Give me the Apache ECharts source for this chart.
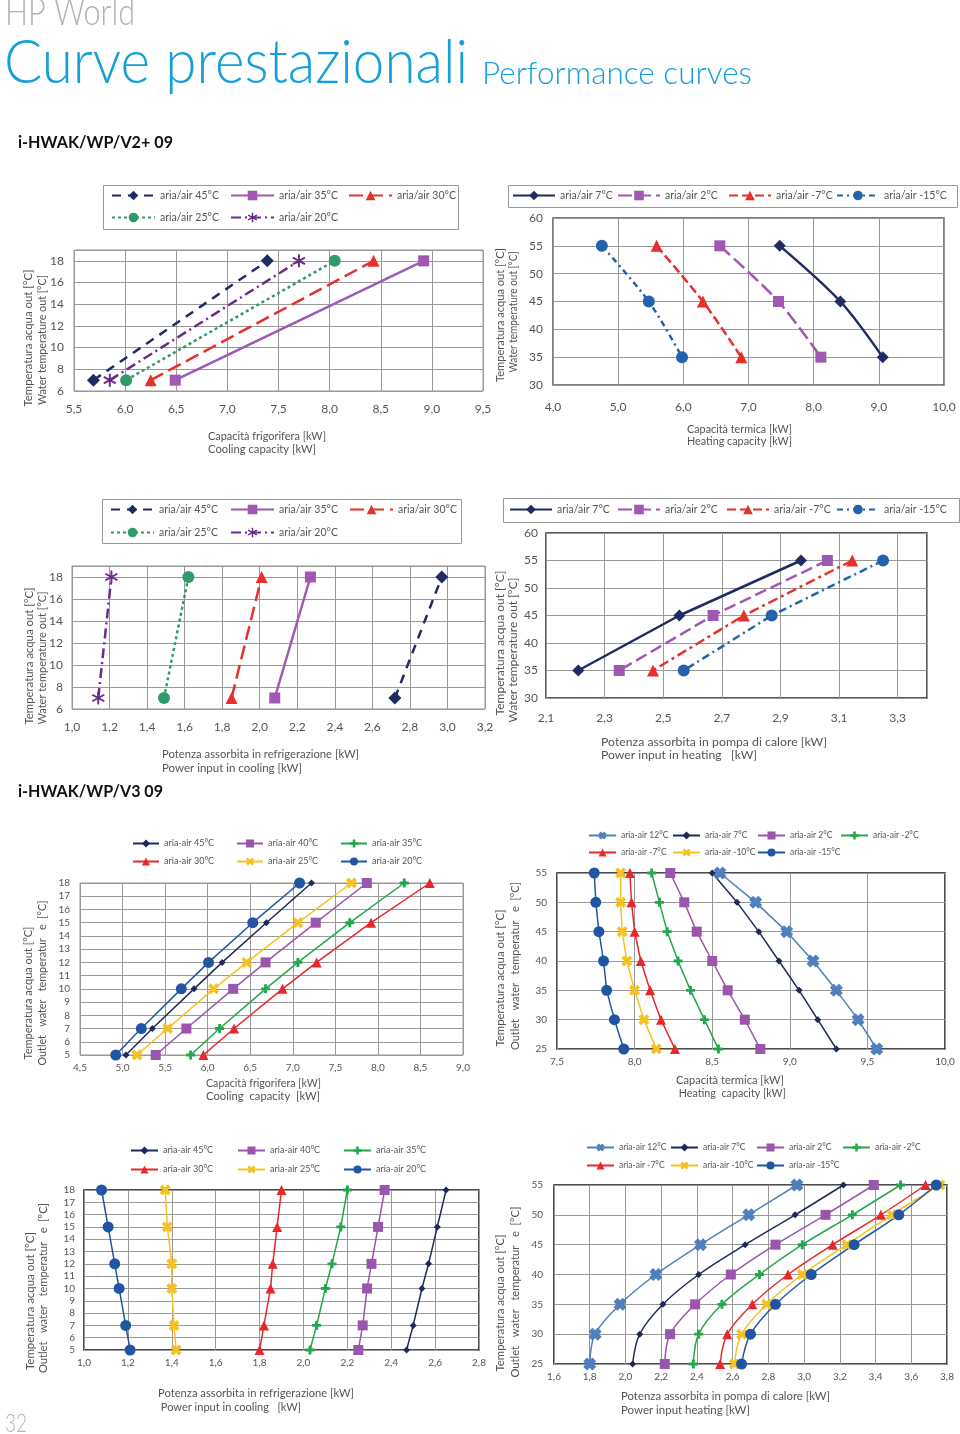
<!DOCTYPE html>
<html><head><meta charset="utf-8">
<script src="https://cdn.jsdelivr.net/npm/echarts@6/dist/echarts.min.js"></script>
<style>html,body{margin:0;padding:0;background:#fff}#c{width:960px;height:1434px}</style>
</head><body><div id="c"></div>
<script>
// ================= DATA =================
// i-HWAK/WP/V2+ 09 — cooling (water out temps 7 / 18 °C)
const coolTempsV2 = [7, 18];
const coolNamesV2 = ['aria/air 45°C', 'aria/air 35°C', 'aria/air 30°C', 'aria/air 25°C', 'aria/air 20°C'];
const capCoolV2_45 = [5.69, 7.39];
const capCoolV2_35 = [6.49, 8.92];
const capCoolV2_30 = [6.25, 8.43];
const capCoolV2_25 = [6.01, 8.05];
const capCoolV2_20 = [5.85, 7.70];
const powCoolV2_45 = [2.72, 2.97];
const powCoolV2_35 = [2.08, 2.27];
const powCoolV2_30 = [1.85, 2.01];
const powCoolV2_25 = [1.49, 1.62];
const powCoolV2_20 = [1.14, 1.21];
// i-HWAK/WP/V2+ 09 — heating (water out temps 55 / 45 / 35 °C)
const heatTempsV2 = [55, 45, 35];
const heatNamesV2 = ['aria/air 7°C', 'aria/air 2°C', 'aria/air -7°C', 'aria/air -15°C'];
const capHeatV2_7 = [7.48, 8.41, 9.06];
const capHeatV2_2 = [6.56, 7.46, 8.11];
const capHeatV2_m7 = [5.59, 6.30, 6.89];
const capHeatV2_m15 = [4.75, 5.47, 5.98];
const powHeatV2_7 = [2.97, 2.555, 2.21];
const powHeatV2_2 = [3.06, 2.67, 2.35];
const powHeatV2_m7 = [3.145, 2.775, 2.465];
const powHeatV2_m15 = [3.25, 2.87, 2.57];
// i-HWAK/WP/V3 09 — cooling
const coolTempsV3 = [5, 7, 10, 12, 15, 18];
const coolNamesV3 = ['aria-air 45°C', 'aria-air 40°C', 'aria-air 35°C', 'aria-air 30°C', 'aria-air 25°C', 'aria-air 20°C'];
const capCoolV3_45 = [5.04, 5.35, 5.84, 6.17, 6.69, 7.22];
const capCoolV3_40 = [5.39, 5.75, 6.30, 6.68, 7.27, 7.87];
const capCoolV3_35 = [5.80, 6.14, 6.68, 7.06, 7.67, 8.31];
const capCoolV3_30 = [5.95, 6.31, 6.88, 7.28, 7.92, 8.61];
const capCoolV3_25 = [5.17, 5.53, 6.07, 6.46, 7.06, 7.69];
const capCoolV3_20 = [4.92, 5.22, 5.69, 6.01, 6.53, 7.08];
const powCoolV3_45 = [2.47, 2.50, 2.54, 2.57, 2.61, 2.65];
const powCoolV3_40 = [2.25, 2.27, 2.29, 2.31, 2.34, 2.37];
const powCoolV3_35 = [2.03, 2.06, 2.10, 2.13, 2.17, 2.20];
const powCoolV3_30 = [1.80, 1.82, 1.85, 1.86, 1.88, 1.90];
const powCoolV3_25 = [1.42, 1.41, 1.40, 1.40, 1.38, 1.37];
const powCoolV3_20 = [1.21, 1.19, 1.16, 1.14, 1.11, 1.08];
// i-HWAK/WP/V3 09 — heating
const heatTempsV3 = [25, 30, 35, 40, 45, 50, 55];
const heatNamesV3 = ['aria-air 12°C', 'aria-air 7°C', 'aria-air 2°C', 'aria-air -2°C', 'aria-air -7°C', 'aria-air -10°C', 'aria-air -15°C'];
const capHeatV3_12 = [9.56, 9.44, 9.30, 9.15, 8.98, 8.78, 8.55];
const capHeatV3_7 = [9.30, 9.18, 9.06, 8.93, 8.80, 8.66, 8.50];
const capHeatV3_2 = [8.81, 8.71, 8.60, 8.50, 8.40, 8.32, 8.23];
const capHeatV3_m2 = [8.54, 8.45, 8.36, 8.28, 8.21, 8.16, 8.11];
const capHeatV3_m7 = [8.26, 8.17, 8.10, 8.04, 8.00, 7.98, 7.97];
const capHeatV3_m10 = [8.14, 8.06, 8.00, 7.95, 7.92, 7.91, 7.91];
const capHeatV3_m15 = [7.93, 7.87, 7.82, 7.80, 7.77, 7.75, 7.74];
const powHeatV3_12 = [1.80, 1.83, 1.97, 2.17, 2.42, 2.69, 2.96];
const powHeatV3_7 = [2.04, 2.08, 2.21, 2.41, 2.67, 2.95, 3.22];
const powHeatV3_2 = [2.22, 2.25, 2.39, 2.59, 2.84, 3.12, 3.39];
const powHeatV3_m2 = [2.38, 2.41, 2.54, 2.75, 2.99, 3.27, 3.54];
const powHeatV3_m7 = [2.53, 2.57, 2.71, 2.91, 3.16, 3.43, 3.68];
const powHeatV3_m10 = [2.61, 2.65, 2.79, 2.99, 3.24, 3.49, 3.76];
const powHeatV3_m15 = [2.65, 2.70, 2.84, 3.04, 3.28, 3.53, 3.74];

// ================= STYLE / HELPERS =================
const FONT = 'Lato, "Open Sans", "Noto Sans", sans-serif';
const fmt1 = v => (Math.round(v * 10) / 10).toFixed(1).replace('.', ',');
const pairs = (xs, ys) => xs.map((x, i) => [x, ys[i]]);
function bar(ang, L, W) {
  const c = Math.cos(ang), s = Math.sin(ang);
  const pts = [[-L, -W], [L, -W], [L, W], [-L, W]].map(([px, py]) => [(px * c - py * s).toFixed(2), (px * s + py * c).toFixed(2)]);
  return 'M' + pts.map(p => p.join(' ')).join(' L') + ' Z';
}
const SYM_ASTER = 'path://' + [90, 30, 150].map(a => bar(a * Math.PI / 180, 10, 1.4)).join(' ');
const SYM_X = 'path://' + [45, 135].map(a => bar(a * Math.PI / 180, 10, 3.2)).join(' ');
const SYM_X2 = 'path://' + [45, 135].map(a => bar(a * Math.PI / 180, 10, 4.2)).join(' ');
const SYM_PLUS = 'path://' + [0, 90].map(a => bar(a * Math.PI / 180, 10, 3.2)).join(' ');

const C = {
  navy: '#1f2b62', purple: '#a058b3', red: '#e5302b', green: '#2f9a6b', dpurple: '#6b2b88', blue: '#2562ad',
  navy3: '#1e2a5a', purple3: '#9a55ad', green3: '#22a84b', red3: '#e8272b', yellow3: '#f5c21f', blue3: '#2155a3', steel3: '#4f80bd'
};

const grids = [], xAxes = [], yAxes = [], series = [], legends = [], graphics = [];

function addPanel(g) {
  const gi = grids.length;
  grids.push({ left: g.left, top: g.top, width: g.width, height: g.height, show: true,
    borderColor: g.border, borderWidth: g.borderW, backgroundColor: 'transparent', containLabel: false, outerBoundsMode: 'none' });
  xAxes.push({ type: 'value', gridIndex: gi, min: g.x[0], max: g.x[1], interval: g.x[2],
    axisLine: { show: false }, axisTick: { show: false },
    splitLine: { show: true, lineStyle: { color: '#999', width: 1 } },
    axisLabel: { formatter: v => fmt1(v), fontFamily: FONT, fontSize: g.fs, color: '#555', margin: g.xm, showMinLabel: true, showMaxLabel: g.xMaxLabel !== false } });
  yAxes.push({ type: 'value', gridIndex: gi, min: g.y[0], max: g.y[1], interval: g.y[2],
    axisLine: { show: false }, axisTick: { show: false },
    splitLine: { show: true, lineStyle: { color: '#999', width: 1 } },
    axisLabel: { formatter: v => String(Math.round(v)), fontFamily: FONT, fontSize: g.fs, color: '#555', margin: g.ym, showMinLabel: true, showMaxLabel: g.yMaxLabel !== false } });
  return gi;
}
function addLine(gi, name, xs, ys, color, o) {
  series.push({ type: 'line', name, xAxisIndex: gi, yAxisIndex: gi, data: pairs(xs, ys),
    symbol: o.symbol, symbolSize: o.size, smooth: o.smooth || false, animation: false, silent: true,
    lineStyle: { color, width: o.width, type: o.dash || 'solid' }, itemStyle: { color } });
}
// one legend component per item, so every item sits exactly where the reference has it
function addLegendRow(names, lefts, top, o) {
  names.forEach((nm, i) => {
    legends.push({ data: [nm], left: lefts[i], top, orient: 'horizontal', padding: 0, selectedMode: false,
      itemWidth: o.iw, itemHeight: o.ih, itemGap: 0, width: 200,
      textStyle: { fontFamily: FONT, fontSize: o.fs, color: '#555' } });
  });
}
const mctx = document.createElement('canvas').getContext('2d');
function fitText(text, x, y, font, targetW, fill, opts) {
  opts = opts || {};
  mctx.font = font;
  const w = mctx.measureText(text).width || 1;
  graphics.push({ type: 'text', x, y, rotation: opts.rot || 0, scaleX: targetW / w, silent: true,
    style: { text, font, fill, textAlign: opts.align || 'left', textVerticalAlign: 'middle' } });
}
function box(x, y, w, h) {
  graphics.push({ type: 'rect', shape: { x: x + 0.5, y: y + 0.5, width: w, height: h }, silent: true,
    style: { fill: 'none', stroke: '#999', lineWidth: 1 } });
}
const TXT = '#555';
const nameFont = '12px ' + FONT;
function xName(l1, w1, l2, w2, x, y1, y2) {
  fitText(l1, x, y1, nameFont, w1, TXT);
  fitText(l2, x, y2, nameFont, w2, TXT);
}
function yName(l1, w1, x1, l2, w2, x2, yc1, yc2) {
  fitText(l1, x1, yc1, nameFont, w1, TXT, { rot: Math.PI / 2, align: 'center' });
  fitText(l2, x2, yc2, nameFont, w2, TXT, { rot: Math.PI / 2, align: 'center' });
}

// ================= HEADER =================
fitText('HP World', 5, 13, '300 38px ' + FONT, 130, '#b3b3b3');
fitText('Curve prestazionali', 4, 63, '300 62px ' + FONT, 464, '#159fd9');
fitText('Performance curves', 482, 74, '300 32px ' + FONT, 270, '#159fd9');
fitText('i-HWAK/WP/V2+ 09', 18, 143, 'bold 17px ' + FONT, 155, '#111');
fitText('i-HWAK/WP/V3 09', 18, 792, 'bold 17px ' + FONT, 145, '#111');
fitText('32', 5, 1424, '300 26px ' + FONT, 22, '#b3b3b3');

// ================= PANEL 1: V2+ cooling capacity =================
let g = addPanel({ left: 74, top: 250, width: 409, height: 141, border: '#999', borderW: 1,
  x: [5.5, 9.5, 0.5], y: [6, 19, 2], yMaxLabel: false, fs: 12, xm: 12, ym: 10 });
const v2CoolStyles = [
  [C.navy, 'diamond', 13, [9, 7]],
  [C.purple, 'rect', 11, 'solid'],
  [C.red, 'triangle', 12, [14, 6]],
  [C.green, 'circle', 12, [3, 3]],
  [C.dpurple, SYM_ASTER, 13, [10, 4, 2, 4]]
];
[capCoolV2_45, capCoolV2_35, capCoolV2_30, capCoolV2_25, capCoolV2_20].forEach((xs, i) => { const s = v2CoolStyles[i]; addLine(g, coolNamesV2[i], xs, coolTempsV2, s[0], { symbol: s[1], size: s[2], dash: s[3], width: 2.5 }); });
box(103, 185, 355, 44);
addLegendRow(coolNamesV2.slice(0, 3), [111, 230, 348], 190, { iw: 43, ih: 12, fs: 10.5 });
addLegendRow(coolNamesV2.slice(3), [111, 230], 212, { iw: 43, ih: 12, fs: 10.5 });
xName('Capacità frigorifera [kW]', 118, 'Cooling capacity [kW]', 108, 208, 436, 449);
yName('Temperatura acqua out [°C]', 137, 28, 'Water temperature out [°C]', 130, 42, 338, 340);

// ================= PANEL 2: V2+ heating capacity =================
g = addPanel({ left: 553, top: 218, width: 391, height: 167, border: '#555', borderW: 1.5,
  x: [4, 10, 1], y: [30, 60, 5], fs: 12, xm: 16, ym: 10 });
const v2HeatStyles = [
  [C.navy, 'diamond', 12, 'solid'],
  [C.purple, 'rect', 11, [14, 5]],
  [C.red, 'triangle', 12, [9, 4]],
  [C.blue, 'circle', 12, [6, 4, 2, 4]]
];
[capHeatV2_7, capHeatV2_2, capHeatV2_m7, capHeatV2_m15].forEach((xs, i) => { const s = v2HeatStyles[i]; addLine(g, heatNamesV2[i], xs, heatTempsV2, s[0], { symbol: s[1], size: s[2], dash: s[3], width: 2.5, smooth: 0.3 }); });
box(508, 185, 449, 22);
addLegendRow(heatNamesV2, [512, 617, 728, 836], 190, { iw: 42, ih: 12, fs: 10.5 });
xName('Capacità termica [kW]', 105, 'Heating capacity [kW]', 105, 687, 429, 441);
yName('Temperatura acqua out [°C]', 134, 500, 'Water temperature out [°C]', 121, 513, 315, 312);

// ================= PANEL 3: V2+ power input cooling =================
g = addPanel({ left: 72, top: 566, width: 413, height: 143, border: '#999', borderW: 1,
  x: [1.0, 3.2, 0.2], y: [6, 19, 2], yMaxLabel: false, fs: 12, xm: 12, ym: 9 });
[powCoolV2_45, powCoolV2_35, powCoolV2_30, powCoolV2_25, powCoolV2_20].forEach((xs, i) => { const s = v2CoolStyles[i]; addLine(g, coolNamesV2[i], xs, coolTempsV2, s[0], { symbol: s[1], size: s[2], dash: s[3], width: 2.5 }); });
box(102, 499, 359, 44);
addLegendRow(coolNamesV2.slice(0, 3), [110, 230, 349], 504, { iw: 43, ih: 12, fs: 10.5 });
addLegendRow(coolNamesV2.slice(3), [110, 230], 527, { iw: 43, ih: 12, fs: 10.5 });
xName('Potenza assorbita in refrigerazione [kW]', 197, 'Power input in cooling [kW]', 140, 162, 754, 768);
yName('Temperatura acqua out [°C]', 137, 29, 'Water temperature out [°C]', 133, 42, 656, 658);

// ================= PANEL 4: V2+ power input heating =================
g = addPanel({ left: 546, top: 533, width: 381, height: 165, border: '#222', borderW: 1.5,
  x: [2.1, 3.4, 0.2], y: [30, 60, 5], xMaxLabel: false, fs: 12, xm: 14, ym: 8 });
const v2PowHeatStyles = [
  [C.navy, 'diamond', 12, 'solid'],
  [C.purple, 'rect', 11, [12, 5]],
  [C.red, 'triangle', 12, [10, 4, 3, 4]],
  [C.blue, 'circle', 12, [8, 4, 2, 4]]
];
[powHeatV2_7, powHeatV2_2, powHeatV2_m7, powHeatV2_m15].forEach((xs, i) => { const s = v2PowHeatStyles[i]; addLine(g, heatNamesV2[i], xs, heatTempsV2, s[0], { symbol: s[1], size: s[2], dash: s[3], width: 2.5 }); });
box(503, 498, 456, 24);
addLegendRow(heatNamesV2, [509, 617, 726, 836], 504, { iw: 42, ih: 12, fs: 10.5 });
xName('Potenza assorbita in pompa di calore [kW]', 226, 'Power input in heating   [kW]', 156, 601, 742, 755);
yName('Temperatura acqua out [°C]', 145, 500, 'Water temperature out [°C]', 145, 513, 643, 650);

// ================= PANEL 5: V3 cooling capacity =================
g = addPanel({ left: 80, top: 883, width: 383, height: 172, border: '#999', borderW: 1,
  x: [4.5, 9.0, 0.5], y: [5, 18, 1], fs: 10, xm: 8, ym: 10 });
const v3CoolStyles = [
  [C.navy3, 'diamond', 7],
  [C.purple3, 'rect', 10],
  [C.green3, SYM_PLUS, 9],
  [C.red3, 'triangle', 10],
  [C.yellow3, SYM_X, 11],
  [C.blue3, 'circle', 11]
];
[capCoolV3_45, capCoolV3_40, capCoolV3_35, capCoolV3_30, capCoolV3_25, capCoolV3_20].forEach((xs, i) => { const s = v3CoolStyles[i]; addLine(g, coolNamesV3[i], xs, coolTempsV3, s[0], { symbol: s[1], size: s[2], width: 1.5 }); });
addLegendRow(coolNamesV3.slice(0, 3), [132, 236, 340], 839, { iw: 26, ih: 10, fs: 9 });
addLegendRow(coolNamesV3.slice(3), [132, 236, 340], 857, { iw: 26, ih: 10, fs: 9 });
xName('Capacità frigorifera [kW]', 115, 'Cooling  capacity  [kW]', 114, 206, 1083, 1096);
yName('Temperatura acqua out [°C]', 133, 28, 'Outlet   water   temperatur   e  [°C]', 165, 42, 993, 983);

// ================= PANEL 6: V3 heating capacity =================
g = addPanel({ left: 557, top: 873, width: 388, height: 176, border: '#111', borderW: 1.5,
  x: [7.5, 10.0, 0.5], y: [25, 55, 5], fs: 10, xm: 8, ym: 10 });
const v3HeatStyles = [
  [C.steel3, SYM_X2, 13],
  [C.navy3, 'diamond', 7],
  [C.purple3, 'rect', 10],
  [C.green3, SYM_PLUS, 9],
  [C.red3, 'triangle', 10],
  [C.yellow3, SYM_X, 11],
  [C.blue3, 'circle', 11]
];
[capHeatV3_12, capHeatV3_7, capHeatV3_2, capHeatV3_m2, capHeatV3_m7, capHeatV3_m10, capHeatV3_m15].forEach((xs, i) => { const s = v3HeatStyles[i]; addLine(g, heatNamesV3[i], xs, heatTempsV3, s[0], { symbol: s[1], size: s[2], width: 1.5 }); });
addLegendRow(heatNamesV3.slice(0, 4), [588, 672, 757, 840], 831, { iw: 27, ih: 10, fs: 8.5 });
addLegendRow(heatNamesV3.slice(4), [588, 672, 757], 848, { iw: 27, ih: 10, fs: 8.5 });
xName('Capacità termica [kW]', 108, ' Heating  capacity [kW]', 110, 676, 1080, 1093);
yName('Temperatura acqua out [°C]', 137, 500, 'Outlet   water   temperatur   e  [°C]', 168, 515, 978, 966);

// ================= PANEL 7: V3 power input cooling =================
g = addPanel({ left: 84, top: 1190, width: 395, height: 160, border: '#111', borderW: 1.5,
  x: [1.0, 2.8, 0.2], y: [5, 18, 1], fs: 10, xm: 8, ym: 9 });
[powCoolV3_45, powCoolV3_40, powCoolV3_35, powCoolV3_30, powCoolV3_25, powCoolV3_20].forEach((xs, i) => { const s = v3CoolStyles[i]; addLine(g, coolNamesV3[i], xs, coolTempsV3, s[0], { symbol: s[1], size: s[2], width: 1.5 }); });
addLegendRow(coolNamesV3.slice(0, 3), [130, 237, 343], 1146, { iw: 27, ih: 10, fs: 9 });
addLegendRow(coolNamesV3.slice(3), [130, 237, 343], 1165, { iw: 27, ih: 10, fs: 9 });
xName('Potenza assorbita in refrigerazione [kW]', 196, ' Power input in cooling   [kW]', 143, 158, 1393, 1407);
yName('Temperatura acqua out [°C]', 138, 30, 'Outlet   water   temperatur   e  [°C]', 170, 43, 1301, 1288);

// ================= PANEL 8: V3 power input heating =================
g = addPanel({ left: 554, top: 1185, width: 393, height: 179, border: '#111', borderW: 1.5,
  x: [1.6, 3.8, 0.2], y: [25, 55, 5], fs: 10, xm: 8, ym: 11 });
[powHeatV3_12, powHeatV3_7, powHeatV3_2, powHeatV3_m2, powHeatV3_m7, powHeatV3_m10, powHeatV3_m15].forEach((xs, i) => { const s = v3HeatStyles[i]; addLine(g, heatNamesV3[i], xs, heatTempsV3, s[0], { symbol: s[1], size: s[2], width: 1.5, smooth: 0.35 }); });
addLegendRow(heatNamesV3.slice(0, 4), [586, 670, 756, 842], 1143, { iw: 27, ih: 10, fs: 8.5 });
addLegendRow(heatNamesV3.slice(4), [586, 670, 756], 1161, { iw: 27, ih: 10, fs: 8.5 });
xName('Potenza assorbita in pompa di calore [kW]', 209, 'Power input heating [kW]', 129, 621, 1396, 1410);
yName('Temperatura acqua out [°C]', 137, 500, 'Outlet   water   temperatur   e  [°C]', 171, 515, 1303, 1292);

// ================= CHART =================
const chart = echarts.init(document.getElementById('c'), null, { renderer: 'canvas', width: 960, height: 1434 });
chart.setOption({
  backgroundColor: '#ffffff',
  animation: false,
  textStyle: { fontFamily: FONT },
  grid: grids, xAxis: xAxes, yAxis: yAxes, series, legend: legends, graphic: graphics
});
</script></body></html>
